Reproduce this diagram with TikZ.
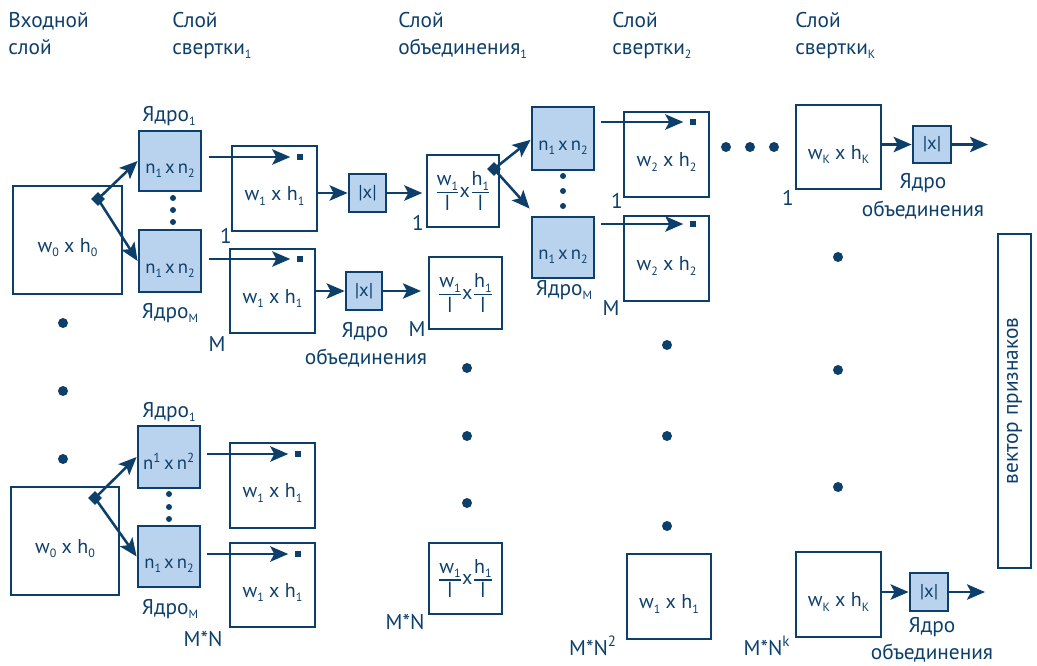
\documentclass[tikz,border=0pt]{standalone}
\usepackage{fontspec}
\usepackage{amsmath}
\setmainfont{PT Sans}
\newfontfamily\lfont{Open Sans}
\usetikzlibrary{arrows.meta,shapes.geometric,calc}
\definecolor{dblue}{HTML}{0D3F6B}
\definecolor{lblue}{HTML}{B9D3EE}
\newcommand{\sbx}[1]{\raisebox{-0.45ex}{\fontsize{9}{10}\selectfont #1}}
\newcommand{\knn}{n\sbx{1}\,x\,n\sbx{2}}
\newcommand{\poolfr}{$\genfrac{}{}{1.1pt}{}{\mbox{w\sbx{1}}}{\mbox{\lfont l}}\mbox{x}\genfrac{}{}{1.1pt}{}{\mbox{h\sbx{1}}}{\mbox{\lfont l}}$}
\begin{document}
\begin{tikzpicture}[x=0.75pt,y=-0.75pt,
  every node/.style={text=dblue, font=\fontsize{16}{18}\selectfont},
  sz/.style 2 args={minimum width=#1*0.75pt, minimum height=#2*0.75pt},
  box/.style={draw=dblue, line width=2.1pt, inner sep=0pt, fill=white, font=\fontsize{15}{17}\selectfont},
  kbox/.style={box, fill=lblue, font=\fontsize{14}{16}\selectfont},
  inb/.style={text height=21pt, text depth=3pt},
  arr/.style={draw=dblue, line width=1.9pt, -{Stealth[length=13.5pt,width=11.5pt,inset=3pt]}},
  dia/.style={diamond, fill=dblue, inner sep=0pt, minimum size=10.5pt},
  mk/.style={fill=dblue, inner sep=0pt, minimum size=5.2pt},
  bigdot/.style={circle, fill=dblue, inner sep=0pt, minimum size=7.5pt},
  smdot/.style={circle, fill=dblue, inner sep=0pt, minimum size=4.5pt},
  lbl/.style={anchor=base, inner sep=0pt},
  hdr/.style={anchor=base west, inner sep=0pt}
]
\useasboundingbox (0,0) rectangle (1037,665);

% headers
\node[hdr] (h1a) at (8,27) {Входной};
\node[hdr] (h1b) at (8,54) {слой};
\node[hdr] (h2a) at (172,27) {Слой};
\node[hdr] (h2b) at (172,54) {свертки\sbx{1}};
\node[hdr] (h3a) at (398,27) {Слой};
\node[hdr] (h3b) at (398,54) {объединения\sbx{1}};
\node[hdr] (h4a) at (612,27) {Слой};
\node[hdr] (h4b) at (612,54) {свертки\sbx{2}};
\node[hdr] (h5a) at (795,27) {Слой};
\node[hdr] (h5b) at (795,54) {свертки\sbx{K}};

% input layer
\node[box,inb,sz={109}{108}] (in1) at (67.5,240) {w\sbx{0} x h\sbx{0}};
\node[box,inb,sz={108}{108}] (in2) at (65,541) {w\sbx{0} x h\sbx{0}};

% kernels layer 1
\node[kbox,inb,sz={62}{60}] (k1) at (170,161) {\knn};
\node[kbox,inb,sz={62}{62}] (kM) at (170,261) {\knn};
\node[kbox,inb,sz={62}{62}] (k3) at (169,457) {n\textsuperscript{1}\,x\,n\textsuperscript{2}};
\node[kbox,inb,sz={62}{61}] (k4) at (169,556.5) {\knn};

% conv layer 1
\node[box,inb,sz={85}{85}] (c1) at (274.5,188.5) {w\sbx{1} x h\sbx{1}};
\node[box,inb,sz={85}{84}] (c2) at (272.5,291) {w\sbx{1} x h\sbx{1}};
\node[box,inb,sz={85}{85}] (c3) at (272.5,485.5) {w\sbx{1} x h\sbx{1}};
\node[box,inb,sz={85}{84}] (c4) at (272.5,585) {w\sbx{1} x h\sbx{1}};

% pooling kernels
\node[kbox,sz={37}{38}] (pk1) at (367.5,193) {|x|};
\node[kbox,sz={36}{38}] (pk2) at (364,291) {|x|};

% pooled layer 1
\node[box,sz={72}{72}] (p1) at (463,191) {\poolfr};
\node[box,sz={73}{72}] (p2) at (465.5,293) {\poolfr};
\node[box,sz={73}{71}] (p3) at (465.5,578.5) {\poolfr};

% kernels layer 2
\node[kbox,inb,sz={62}{63}] (k21) at (563,138.5) {\knn};
\node[kbox,inb,sz={62}{61}] (k22) at (563,247.5) {\knn};

% conv layer 2
\node[box,inb,sz={85}{85}] (d1) at (666.5,154.5) {w\sbx{2} x h\sbx{2}};
\node[box,inb,sz={85}{85}] (d2) at (666.5,258.5) {w\sbx{2} x h\sbx{2}};
\node[box,inb,sz={84}{85}] (d3) at (669,596.5) {w\sbx{1} x h\sbx{1}};

% conv layer K
\node[box,inb,sz={85}{84}] (e1) at (838.5,147) {w\sbx{K} x h\sbx{K}};
\node[box,inb,sz={85}{85}] (e2) at (838.5,594.5) {w\sbx{K} x h\sbx{K}};
\node[kbox,sz={38}{37}] (pe1) at (932,144.5) {|x|};
\node[kbox,sz={38}{38}] (pe2) at (929,592) {|x|};
\coordinate (oe1) at (988,144.5);
\coordinate (oe2) at (985,592);

% feature vector
\node[box,rotate=90,sz={334}{33},font=\fontsize{16}{18}\selectfont] (fv) at (1014.5,401) {вектор признаков};

% markers
\node[mk] (m1) at (300,157) {};
\node[mk] (m2) at (300,259) {};
\node[mk] (m3) at (298,454) {};
\node[mk] (m4) at (298,554) {};
\node[mk] (m5) at (693,122) {};
\node[mk] (m6) at (693,224) {};

% diamonds
\node[dia] (dA) at (98,199) {};
\node[dia] (dB) at (95,498) {};
\node[dia] (dC) at (494,169) {};

% arrows from diamonds
\draw[arr] (dA.center) -- (k1.west);
\draw[arr] (dA.center) -- (kM.west);
\draw[arr] (dB.center) -- (k3.west);
\draw[arr] (dB.center) -- (k4.west);
\draw[arr] (dC.center) -- ([yshift=-1pt]k21.west);
\coordinate (k22in) at ($(k22.north west)+(-1,-7)$);
\draw[arr] (dC.center) -- (k22in);

% kernel -> feature map arrows
\draw[arr] ([xshift=5.25pt]k1.east |- m1) -- ([xshift=-4.5pt]m1.west);
\draw[arr] ([xshift=5.25pt]kM.east |- m2) -- ([xshift=-4.5pt]m2.west);
\draw[arr] ([xshift=4.5pt]k3.east |- m3) -- ([xshift=-4.5pt]m3.west);
\draw[arr] ([xshift=4.5pt]k4.east |- m4) -- ([xshift=-4.5pt]m4.west);
\draw[arr] ([xshift=4.5pt]k21.east |- m5) -- ([xshift=-4.5pt]m5.west);
\draw[arr] ([xshift=4.5pt]k22.east |- m6) -- ([xshift=-4.5pt]m6.west);

% pooling arrows
\draw[arr] (c1.east |- pk1) -- (pk1.west);
\draw[arr] (pk1.east) -- ([xshift=-2.5pt]p1.west |- pk1);
\draw[arr] (c2.east |- pk2) -- (pk2.west);
\draw[arr] (pk2.east) -- ([xshift=-5pt]p2.west |- pk2);
\draw[arr] (e1.east |- pe1) -- (pe1.west);
\draw[arr] (pe1.east) -- (oe1);
\draw[arr] (e2.east |- pe2) -- (pe2.west);
\draw[arr] (pe2.east) -- (oe2);

% big dots
\foreach \n/\x/\y in {a1/63/323,a2/63/391,a3/63/459,
  b1/467/368,b2/467/436,b3/467/503,
  c1/667/345,c2/667/436,c3/667/526,
  e1/838/257,e2/838/370,e3/838/487,
  f1/726/147,f2/750/147,f3/774/147}
  \node[bigdot] (bd\n) at (\x,\y) {};
% small dots
\foreach \n/\x/\y in {a1/173/198,a2/173/210,a3/173/222,
  b1/169/494,b2/169/507,b3/169/519,
  c1/563/176,c2/563/191,c3/563/206}
  \node[smdot] (sd\n) at (\x,\y) {};

% labels
\node[lbl] (lk1) at (169,121) {Ядро\sbx{1}};
\node[lbl] (lkM) at (170,318) {Ядро\sbx{M}};
\node[lbl] (lk3) at (169,417) {Ядро\sbx{1}};
\node[lbl] (lk4) at (170,614) {Ядро\sbx{M}};
\node[lbl] (lk22) at (564,295) {Ядро\sbx{M}};
\node[lbl] (n1a) at (226,243) {1};
\node[lbl] (nMa) at (217,351) {M};
\node[lbl] (nMNa) at (203,646) {M*N};
\node[lbl] (n1b) at (418,230) {1};
\node[lbl] (nMb) at (417,336) {M};
\node[lbl] (nMNb) at (405,629) {M*N};
\node[lbl] (n1c) at (617,208) {1};
\node[lbl] (nMc) at (611,315) {M};
\node[lbl] (nMNc) at (593,655) {M*N\textsuperscript{2}};
\node[lbl] (n1d) at (788,205) {1};
\node[lbl] (nMNd) at (767,655) {M*N\textsuperscript{k}};
\node[lbl] (pl1a) at (365,337) {Ядро};
\node[lbl] (pl1b) at (366,364) {объединения};
\node[lbl] (pl2a) at (923,188) {Ядро};
\node[lbl] (pl2b) at (923,216) {объединения};
\node[lbl] (pl3a) at (932,632) {Ядро};
\node[lbl] (pl3b) at (932,659) {объединения};
\end{tikzpicture}
\end{document}
